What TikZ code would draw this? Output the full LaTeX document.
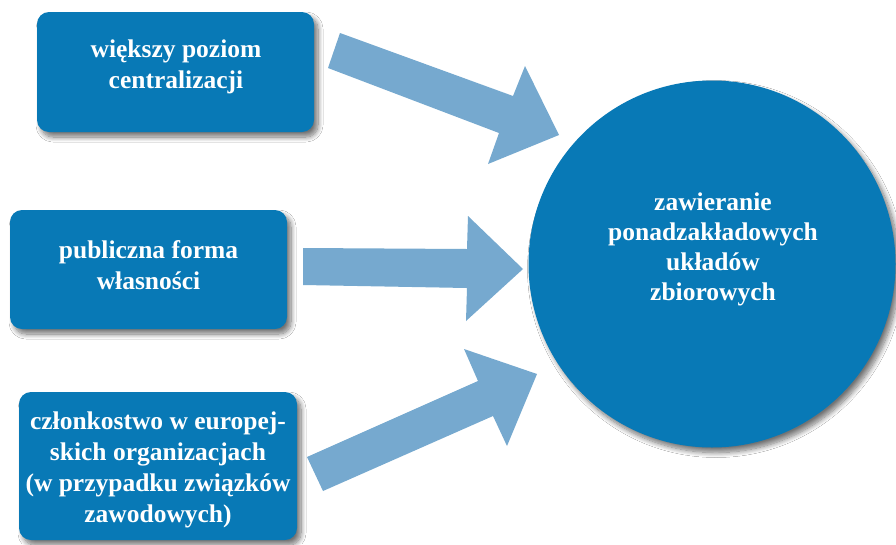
\documentclass[tikz,border=0pt]{standalone}
\usepackage{fontspec}
\setmainfont{Liberation Serif}
\usetikzlibrary{shadows.blur}
\definecolor{boxblue}{RGB}{8,121,182}
\definecolor{arrowblue}{RGB}{118,169,207}
\begin{document}
\begin{tikzpicture}[x=1pt,y=-1pt,
  shade/.style={blur shadow={shadow xshift=4pt,shadow yshift=-5pt,shadow blur radius=5pt,shadow blur steps=10,shadow opacity=55}},
  box/.style={shade,fill=boxblue,draw=none,rounded corners=12pt,text=white,align=center,inner sep=0pt,
    font=\bfseries\fontsize{25.5}{31}\selectfont},
  hub/.style={shade,fill=boxblue,draw=none,circle,text=white,align=center,inner sep=0pt,
    font=\bfseries\fontsize{25.5}{30}\selectfont},
  blockarrow/.style={fill=arrowblue,draw=none}]
\useasboundingbox (0,0) rectangle (896,544);
\fill[white] (0,0) rectangle (896,544);
% block arrows
\fill[blockarrow] (340,33) -- (513,96) -- (525,66) -- (559,135) -- (488,164) -- (499,133) -- (328,68) -- cycle;
\fill[blockarrow] (303,248) -- (467,249) -- (468,216) -- (523,269) -- (466,321) -- (467,288) -- (303,285) -- cycle;
\fill[blockarrow] (307,457) -- (478,381) -- (464,349) -- (537,374) -- (507,446) -- (493,416) -- (323,491) -- cycle;
% boxes
\node[box,minimum width=277pt,minimum height=120pt] (b1) at (175.5,72) {}; 
\node[text=white,align=center,font=\bfseries\fontsize{25.5}{31}\selectfont] (t1) at (176,67) {większy poziom\\centralizacji};
\node[box,minimum width=277pt,minimum height=119pt] (b2) at (148.5,269.5) {};
\node[text=white,align=center,font=\bfseries\fontsize{25.5}{31}\selectfont] (t2) at (148.5,265) {publiczna forma\\własności};
\node[box,minimum width=278pt,minimum height=148pt] (b3) at (158,466) {};
\node[text=white,align=center,font=\bfseries\fontsize{25.5}{31}\selectfont] (t3) at (158,470) {członkostwo w europej-\\skich organizacjach\\(w przypadku związków\\zawodowych)};
% hub
\node[hub,minimum size=367pt] (c) at (712,264) {};
\node[text=white,align=center,font=\bfseries\fontsize{25.5}{30}\selectfont] (ct) at (713,249) {zawieranie\\ponadzakładowych\\układów\\zbiorowych};
\end{tikzpicture}
\end{document}
